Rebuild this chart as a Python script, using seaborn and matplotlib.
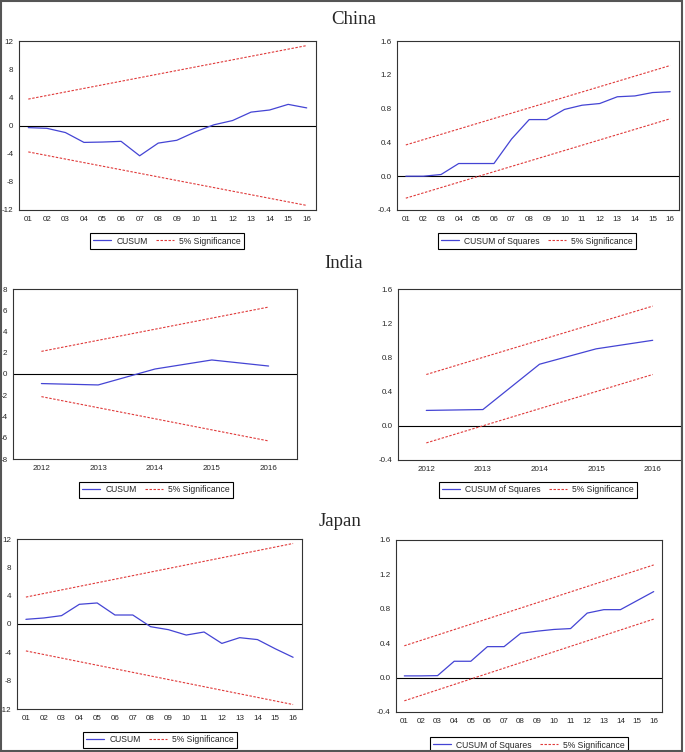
import numpy as np
import pandas as pd
import matplotlib.pyplot as plt
import matplotlib.ticker as mticker
import seaborn as sns

## CUSUM / CUSUM of squares stability tests
periods = list(range(1, 17))
period_labels = ['%02d' % p for p in periods]
years = [2012, 2013, 2014, 2015, 2016]
year_labels = [str(y) for y in years]

china_cusum = [-0.3, -0.4, -1.0, -2.4, -2.35, -2.25, -4.3, -2.5, -2.1, -0.9, 0.1, 0.7, 1.9, 2.2, 3.0, 2.5]
china_cusum_upper = [3.75, 11.35]
china_cusum_lower = [-3.75, -11.35]
china_cusumsq = [0.0, 0.0, 0.02, 0.15, 0.15, 0.15, 0.44, 0.67, 0.67, 0.79, 0.84, 0.86, 0.94, 0.95, 0.99, 1.0]
china_cusumsq_upper = [0.37, 1.31]
china_cusumsq_lower = [-0.26, 0.68]

india_cusum = [-0.9, -1.03, 0.47, 1.32, 0.75]
india_cusum_upper = [2.13, 6.3]
india_cusum_lower = [-2.13, -6.3]
india_cusumsq = [0.18, 0.19, 0.72, 0.9, 1.0]
india_cusumsq_upper = [0.6, 1.4]
india_cusumsq_lower = [-0.2, 0.6]

japan_cusum = [0.66, 0.85, 1.18, 2.78, 2.97, 1.27, 1.27, -0.38, -0.8, -1.56, -1.13, -2.74, -1.93, -2.2, -3.5, -4.7]
japan_cusum_upper = [3.8, 11.37]
japan_cusum_lower = [-3.8, -11.37]
japan_cusumsq = [0.02, 0.02, 0.023, 0.19, 0.19, 0.36, 0.36, 0.515, 0.54, 0.56, 0.57, 0.75, 0.79, 0.79, 0.895, 1.0]
japan_cusumsq_upper = [0.37, 1.31]
japan_cusumsq_lower = [-0.27, 0.68]

sns.set_style("white")
plt.rcParams['font.family'] = ['Liberation Sans', 'DejaVu Sans']

BLUE = '#4444d4'
RED = '#e03a3a'
W, H = 685, 752
fig = plt.figure(figsize=(6.85, 7.52), dpi=100)


def box(x0, y0, x1, y1):  ## pixel box -> figure coords
    return [x0 / W, 1 - y1 / H, (x1 - x0) / W, (y1 - y0) / H]


def panel(rect, x, y, up, lo, xlabels, ylim, ystep, fmt, name, leg_xy):
    ax = fig.add_axes(box(*rect))
    xb = [x[0], x[-1]]
    ax.axhline(0, color='black', lw=0.8)
    sns.lineplot(x=x, y=y, ax=ax, color=BLUE, lw=0.9)
    h_line = ax.lines[-1]
    sns.lineplot(x=xb, y=up, ax=ax, color=RED, lw=0.8, linestyle=(0, (2.2, 1.4)))
    h_sig = ax.lines[-1]
    sns.lineplot(x=xb, y=lo, ax=ax, color=RED, lw=0.8, linestyle=(0, (2.2, 1.4)))

    ax.set_xlim(x[0] - 0.5, x[-1] + 0.5)
    ax.set_ylim(ylim)
    ax.set_xticks(np.arange(x[0] - 0.5, x[-1] + 1))
    ax.xaxis.set_major_formatter(mticker.NullFormatter())
    ax.set_xticks(x, minor=True)
    ax.set_xticklabels(xlabels, minor=True)
    ax.tick_params(axis='x', which='major', direction='out', length=3, width=0.7, color='#333333')
    ax.tick_params(axis='x', which='minor', length=0, pad=4, labelsize=5.8)
    yt = np.arange(ylim[0], ylim[1] + ystep / 2, ystep)
    ax.set_yticks(yt)
    ax.set_yticklabels([fmt % v for v in yt])
    ax.tick_params(axis='y', direction='out', length=2, width=0.7, pad=2, labelsize=5.8, color='#333333')
    ax.set_xlabel('')
    ax.set_ylabel('')
    for s in ax.spines.values():
        s.set_color('#333333')
        s.set_linewidth(0.8)

    leg = ax.legend([h_line, h_sig], [name, '5% Significance'], loc='center',
                    bbox_to_anchor=(leg_xy[0] / W, 1 - leg_xy[1] / H), bbox_transform=fig.transFigure,
                    ncol=2, frameon=True, fancybox=False, edgecolor='black', framealpha=1,
                    fontsize=6.2, handlelength=2.1, borderpad=0.35, columnspacing=1.0, handletextpad=0.6)
    leg.get_frame().set_linewidth(0.8)
    return ax


panel((19, 41, 316, 210), periods, china_cusum, china_cusum_upper, china_cusum_lower,
      period_labels, (-12, 12), 4, '%d', 'CUSUM', (167, 241))
panel((397, 41, 679, 210), periods, china_cusumsq, china_cusumsq_upper, china_cusumsq_lower,
      period_labels, (-0.4, 1.6), 0.4, '%.1f', 'CUSUM of Squares', (537, 241))
panel((13, 289, 297, 459), years, india_cusum, india_cusum_upper, india_cusum_lower,
      year_labels, (-8, 8), 2, '%d', 'CUSUM', (156, 490))
panel((398, 289, 681, 460), years, india_cusumsq, india_cusumsq_upper, india_cusumsq_lower,
      year_labels, (-0.4, 1.6), 0.4, '%.1f', 'CUSUM of Squares', (538, 490))
panel((17, 539, 302, 709), periods, japan_cusum, japan_cusum_upper, japan_cusum_lower,
      period_labels, (-12, 12), 4, '%d', 'CUSUM', (160, 740))
panel((396, 540, 662, 712), periods, japan_cusumsq, japan_cusumsq_upper, japan_cusumsq_lower,
      period_labels, (-0.4, 1.6), 0.4, '%.1f', 'CUSUM of Squares', (529, 745))

for name, cx, cy in [('China', 354, 20), ('India', 344, 263), ('Japan', 340, 522)]:
    fig.text(cx / W, 1 - cy / H, name, family=['Liberation Serif', 'DejaVu Serif'],
             fontsize=13.5, ha='center', va='center')

## outer frame round the whole figure
fig.add_artist(plt.Rectangle((1 / W, 1 / H), 681 / W, 750 / H, transform=fig.transFigure,
                             fill=False, edgecolor='#555555', lw=1.5))

fig.savefig('out.png', dpi=100)
